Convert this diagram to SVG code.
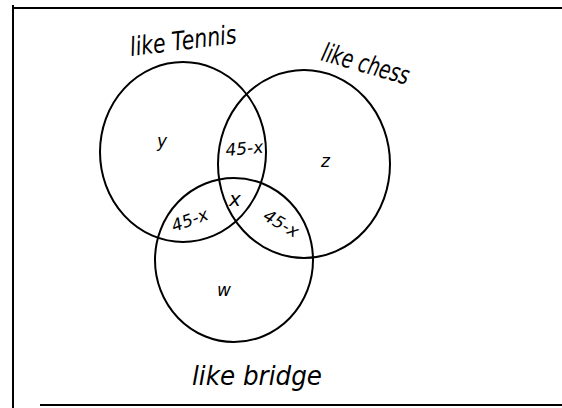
<svg xmlns="http://www.w3.org/2000/svg" width="562" height="408" viewBox="0 0 562 408">
<style>
.c{fill:none;stroke:#000;stroke-width:2}
.f{stroke:#000;stroke-width:2;fill:none}
text{font-family:"DejaVu Sans","Liberation Sans",sans-serif;font-style:italic;fill:#000}
.lab{font-size:26px}
.v{font-size:17px}
</style>
<rect width="562" height="408" fill="#fff"/>
<g id="frame">
<line class="f" x1="13" y1="8" x2="562" y2="8"/>
<line class="f" x1="13" y1="5" x2="13" y2="408"/>
<line class="f" x1="40" y1="405" x2="562" y2="405"/>
</g>
<g id="tennis">
<ellipse class="c" cx="183" cy="152" rx="83" ry="90"/>
<text class="lab" transform="translate(131,56) rotate(-7)" textLength="107" lengthAdjust="spacingAndGlyphs">like Tennis</text>
</g>
<g id="chess">
<ellipse class="c" cx="304" cy="164" rx="86" ry="94"/>
<text class="lab" transform="translate(320,60) rotate(16)" textLength="90" lengthAdjust="spacingAndGlyphs">like chess</text>
</g>
<g id="bridge">
<ellipse class="c" cx="234" cy="260" rx="79" ry="82"/>
<text class="lab" x="192" y="385" textLength="130" lengthAdjust="spacingAndGlyphs">like bridge</text>
</g>
<g id="regions">
<text class="v" x="157" y="147">y</text>
<text class="v" x="321" y="167">z</text>
<text class="v" x="217" y="296">w</text>
<text class="v" x="229" y="206" style="font-size:20px">x</text>
<text class="v" transform="translate(226,156) rotate(-5)">45-x</text>
<text class="v" transform="translate(174,232) rotate(-20)">45-x</text>
<text class="v" transform="translate(262,219) rotate(30)">45-x</text>
</g>
</svg>
